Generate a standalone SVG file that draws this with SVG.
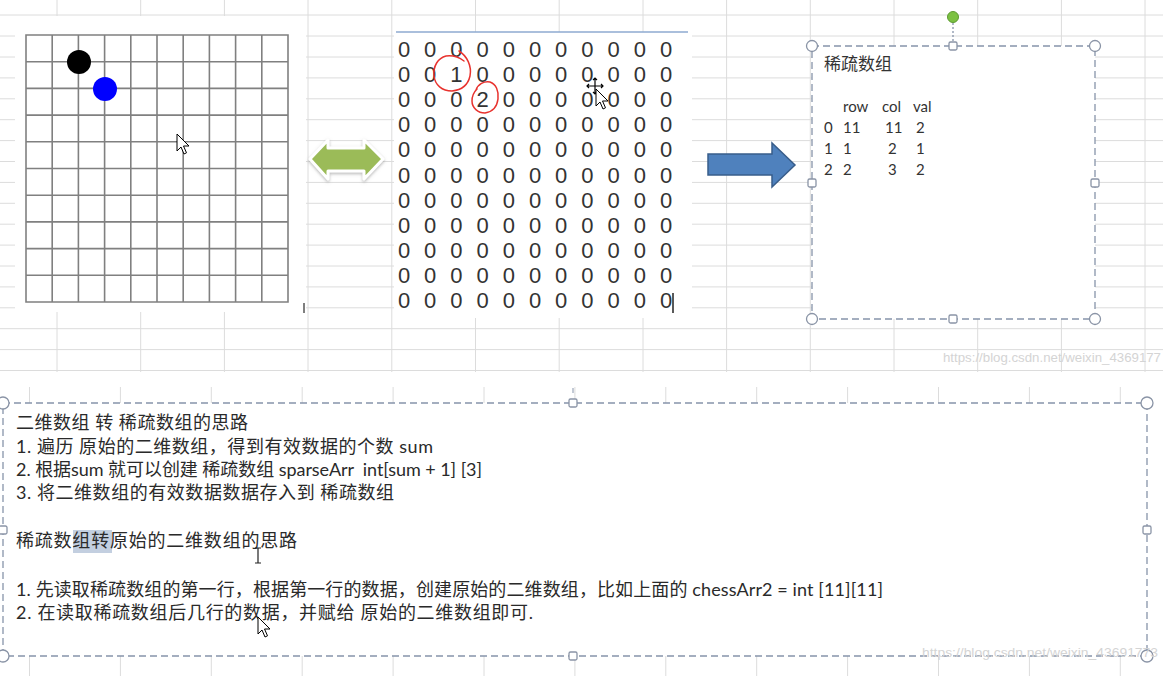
<svg xmlns="http://www.w3.org/2000/svg" width="1163" height="676" viewBox="0 0 1163 676">
<style>
.grid{stroke:#dcdcdc;stroke-width:1;fill:none}
.board{stroke:#808080;stroke-width:1.6;fill:none}
.dig{font-family:"Liberation Sans",sans-serif;font-size:22px;fill:#333;text-anchor:middle}
.sp{font-family:"Lato","Noto Sans CJK SC",sans-serif;font-size:15px;fill:#333}
.tt{font-family:"Lato","Noto Sans CJK SC",sans-serif;font-size:17px;fill:#333}
.note{font-family:"Lato","Noto Sans CJK SC",sans-serif;font-size:18px;fill:#2a2a2a}
.dash{fill:#fff;stroke:#8794aa;stroke-width:1.3;stroke-dasharray:7 4}
.hc{fill:#fff;stroke:#8a94a6;stroke-width:1.3}
.wm{font-family:"Liberation Sans",sans-serif;font-size:13px;fill:#d4d4d4}
.cur{fill:#fff;stroke:#000;stroke-width:1}
.red{fill:none;stroke:#e8322e;stroke-width:1.5;stroke-linecap:round}
</style>
<defs>
<filter id="sh" x="-20%" y="-30%" width="140%" height="160%">
<feDropShadow dx="0" dy="1.5" stdDeviation="1.8" flood-color="#888" flood-opacity="0.6"/>
</filter>
</defs>
<rect width="1163" height="676" fill="#fff"/>
<g id="sheet-grid">
<path class="grid" d="M57 0V372M140.7 0V372M224.4 0V372M308 0V372M391.8 0V372M475.5 0V372M559.2 0V372M643 0V372M726.6 0V372M810.3 0V372M894 0V372M977.7 0V372M1061.4 0V372M1145 0V372
M0 15H1163M0 36H1163M0 57H1163M0 77.9H1163M0 98.8H1163M0 119.7H1163M0 140.6H1163M0 161.5H1163M0 182.4H1163M0 203.3H1163M0 224.2H1163M0 245.1H1163M0 266H1163M0 286.9H1163M0 307.8H1163M0 328.7H1163M0 349.6H1163M0 370.5H1163"/>
<path class="grid" d="M29.5 387V676M120.4 387V676M211.3 387V676M302.2 387V676M393.1 387V676M484 387V676M574.9 387V676M665.8 387V676M756.7 387V676M847.6 387V676M938.5 387V676M1029.4 387V676M1120.3 387V676"/>
<text class="wm" x="943" y="362" textLength="218" lengthAdjust="spacingAndGlyphs">https://blog.csdn.net/weixin_4369177</text>
</g>
<g id="chessboard">
<rect x="15" y="16" width="291" height="296" fill="#fff"/>
<path class="board" d="M26 35H288V302H26Z M52.2 35V302M78.4 35V302M104.6 35V302M130.8 35V302M157 35V302M183.2 35V302M209.4 35V302M235.6 35V302M261.8 35V302
M26 61.7H288M26 88.4H288M26 115.1H288M26 141.8H288M26 168.5H288M26 195.2H288M26 221.9H288M26 248.6H288M26 275.3H288"/>
<circle cx="79" cy="62" r="12" fill="#000"/>
<circle cx="105" cy="89" r="12" fill="#0000ff"/>
<path class="cur" d="M177 134v17l4-4l3 7l2.5-1.2l-3-6.8h5.5Z"/>
<line x1="304" y1="303" x2="304" y2="313" stroke="#555" stroke-width="1.5"/>
</g>
<g id="matrix">
<rect x="394" y="32" width="298" height="286" fill="#fff"/>
<line x1="396" y1="32" x2="688" y2="32" stroke="#8eaad0" stroke-width="1.6"/>
<g class="dig">
<text x="404 430.2 456.4 482.6 508.8 535 561.2 587.4 613.6 639.8 666" y="57">00000000000</text>
<text x="404 430.2 456.4 482.6 508.8 535 561.2 587.4 613.6 639.8 666" y="82.1">00100000000</text>
<text x="404 430.2 456.4 482.6 508.8 535 561.2 587.4 613.6 639.8 666" y="107.2">00020000000</text>
<text x="404 430.2 456.4 482.6 508.8 535 561.2 587.4 613.6 639.8 666" y="132.3">00000000000</text>
<text x="404 430.2 456.4 482.6 508.8 535 561.2 587.4 613.6 639.8 666" y="157.4">00000000000</text>
<text x="404 430.2 456.4 482.6 508.8 535 561.2 587.4 613.6 639.8 666" y="182.5">00000000000</text>
<text x="404 430.2 456.4 482.6 508.8 535 561.2 587.4 613.6 639.8 666" y="207.6">00000000000</text>
<text x="404 430.2 456.4 482.6 508.8 535 561.2 587.4 613.6 639.8 666" y="232.7">00000000000</text>
<text x="404 430.2 456.4 482.6 508.8 535 561.2 587.4 613.6 639.8 666" y="257.8">00000000000</text>
<text x="404 430.2 456.4 482.6 508.8 535 561.2 587.4 613.6 639.8 666" y="282.9">00000000000</text>
<text x="404 430.2 456.4 482.6 508.8 535 561.2 587.4 613.6 639.8 666" y="308">00000000000</text>
</g>
<path class="red" d="M459 51C467 56 472 66 470 76C468 85 462 90 452 91C442 91 435 85 434 76C433 66 438 58 446 56C453 55 460 58 464 61"/>
<path class="red" d="M476 90C478 84 484 81 490 82C496 84 499 91 498 99C497 107 492 112 485 113C478 113 472 108 472 101C472 96 474 92 477 89"/>
<line x1="673" y1="293" x2="673" y2="313" stroke="#222" stroke-width="1.5"/>
<g stroke="#000" stroke-width="1.2" fill="none">
<path d="M587 86H603M595 78V94M589 84l-2 2l2 2M601 84l2 2l-2 2M593 80l2-2l2 2M593 92l2 2l2-2"/>
</g>
<path class="cur" d="M596 89v17l4-4l3 7l2.5-1.2l-3-6.8h5.5Z"/>
</g>
<g id="sparse-array">
<rect class="dash" x="812" y="46" width="283" height="273"/>
<line x1="953" y1="23" x2="953" y2="42" stroke="#8794aa" stroke-width="1.3" stroke-dasharray="2 2"/>
<circle cx="953" cy="17" r="5.5" fill="#7cc142" stroke="#5c9a30" stroke-width="1"/>
<circle class="hc" cx="812" cy="46" r="5.5"/><circle class="hc" cx="1095" cy="46" r="5.5"/>
<circle class="hc" cx="812" cy="319" r="5.5"/><circle class="hc" cx="1095" cy="319" r="5.5"/>
<rect class="hc" x="949" y="42" width="8" height="8" rx="1.5"/><rect class="hc" x="949" y="315" width="8" height="8" rx="1.5"/>
<rect class="hc" x="808" y="179" width="8" height="8" rx="1.5"/><rect class="hc" x="1091" y="179" width="8" height="8" rx="1.5"/>
<text class="tt" x="824" y="70">稀疏数组</text>
<text class="sp" x="843" y="112">row</text><text class="sp" x="882" y="112">col</text><text class="sp" x="913" y="112">val</text>
<text class="sp" x="824" y="133">0</text><text class="sp" x="843" y="133">11</text><text class="sp" x="885" y="133">11</text><text class="sp" x="916" y="133">2</text>
<text class="sp" x="824" y="154">1</text><text class="sp" x="843" y="154">1</text><text class="sp" x="888" y="154">2</text><text class="sp" x="916" y="154">1</text>
<text class="sp" x="824" y="175">2</text><text class="sp" x="843" y="175">2</text><text class="sp" x="888" y="175">3</text><text class="sp" x="916" y="175">2</text>
</g>
<g id="notes">
<line x1="573" y1="388" x2="573" y2="393" stroke="#8794aa" stroke-width="1"/>
<rect class="dash" x="3" y="403" width="1144" height="253"/>
<circle class="hc" cx="3" cy="403" r="6"/><circle class="hc" cx="1147" cy="403" r="6"/>
<circle class="hc" cx="3" cy="656" r="6"/><circle class="hc" cx="1147" cy="656" r="6"/>
<rect class="hc" x="569" y="399" width="8" height="8" rx="1.5"/><rect class="hc" x="569" y="652" width="8" height="8" rx="1.5"/>
<rect class="hc" x="-1" y="526" width="8" height="8" rx="1.5"/><rect class="hc" x="1143" y="526" width="8" height="8" rx="1.5"/>
<rect x="73" y="530" width="39" height="23" fill="#c3cfe0"/>
<text class="note" x="16" y="429" textLength="232" lengthAdjust="spacing">二维数组 转 稀疏数组的思路</text>
<text class="note" x="16" y="453" textLength="417" lengthAdjust="spacing">1. 遍历 原始的二维数组，得到有效数据的个数 sum</text>
<text class="note" x="16" y="476" textLength="466" lengthAdjust="spacing">2. 根据sum 就可以创建 稀疏数组 sparseArr&#160;&#160;int[sum + 1] [3]</text>
<text class="note" x="16" y="499" textLength="378" lengthAdjust="spacing">3. 将二维数组的有效数据数据存入到 稀疏数组</text>
<text class="note" x="16" y="547" textLength="281" lengthAdjust="spacing">稀疏数组转原始的二维数组的思路</text>
<text class="note" x="16" y="596" textLength="867" lengthAdjust="spacing">1. 先读取稀疏数组的第一行，根据第一行的数据，创建原始的二维数组，比如上面的 chessArr2 = int [11][11]</text>
<text class="note" x="16" y="619" textLength="517" lengthAdjust="spacing">2. 在读取稀疏数组后几行的数据，并赋给 原始的二维数组即可.</text>
<path d="M255 548h6M258 548v15M255 563h6" stroke="#222" stroke-width="1.2" fill="none"/>
<path class="cur" d="M258 617v17l4-4l3 7l2.5-1.2l-3-6.8h5.5Z"/>
<text class="wm" x="922" y="657" textLength="236" lengthAdjust="spacingAndGlyphs">https://blog.csdn.net/weixin_43691773</text>
</g>
<g id="connectors">
<path d="M310 159L328 140V148H364V140L383 159L364 179V171H328V179Z" fill="#9bbb59" stroke="#fff" stroke-width="3" stroke-linejoin="round" filter="url(#sh)"/>
<path d="M708 154H772V143L795 165L772 187V175H708Z" fill="#4f81bd" stroke="#385d8a" stroke-width="1.5"/>
</g>
</svg>
